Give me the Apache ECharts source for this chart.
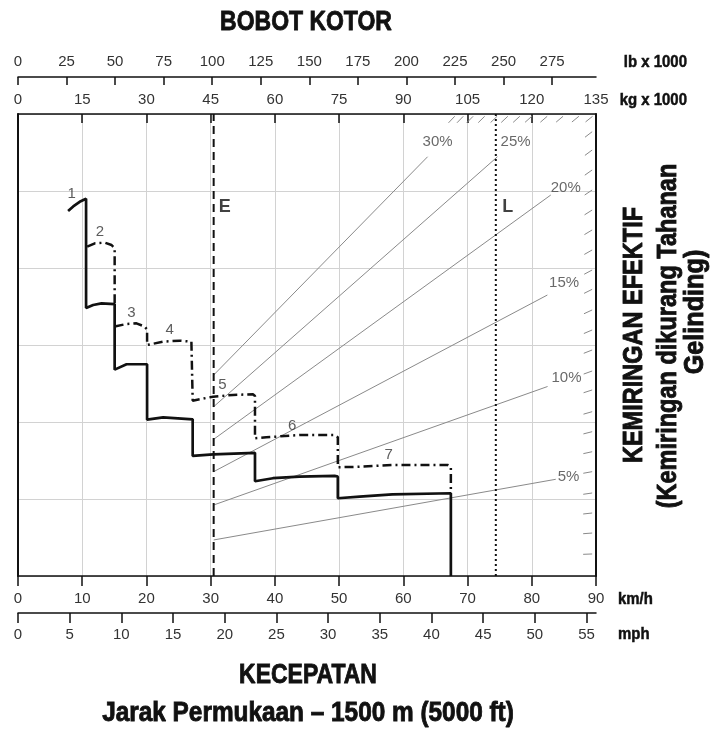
<!DOCTYPE html>
<html>
<head>
<meta charset="utf-8">
<script src="https://cdn.jsdelivr.net/npm/echarts@6/dist/echarts.min.js"></script>
<style>
  html, body { margin: 0; background: #fff; }
  #chart { width: 724px; height: 731px; }
</style>
</head>
<body>
<div id="chart"></div>
<script>
// axis tick labels
const lbTicks = [0, 25, 50, 75, 100, 125, 150, 175, 200, 225, 250, 275];
const kgTicks = [0, 15, 30, 45, 60, 75, 90, 105, 120, 135];
const kmhTicks = [0, 10, 20, 30, 40, 50, 60, 70, 80, 90];
const mphTicks = [0, 5, 10, 15, 20, 25, 30, 35, 40, 45, 50, 55];

// rimpull, full line (km/h, rimpull units)
const rimpullSolid = [
  [7.8, 47.4], [8.6, 48.0], [9.6, 48.6], [10.6, 49.0], [10.6, 34.8],
  [11.7, 35.2], [13.0, 35.4], [15.05, 35.3], [15.05, 26.8],
  [16.9, 27.5], [20.1, 27.5], [20.1, 20.3],
  [22.6, 20.6], [27.2, 20.35], [27.2, 15.6],
  [30.4, 15.8], [36.9, 16.0], [36.9, 12.3],
  [39.7, 12.7], [43.8, 12.9], [49.3, 13.0], [49.8, 12.9], [49.8, 10.1],
  [53.2, 10.3], [58.3, 10.6], [67.4, 10.75], [67.4, 0]
];

// rimpull, dash-dot line
const upperGear2 = [
  [10.77, 42.77], [11.97, 43.21], [13.52, 43.29], [14.57, 42.99], [15.05, 42.56], [15.05, 35.4]
];
const upperGear3to7 = [
  [15.05, 32.4], [16.9, 32.73], [18.45, 32.82], [19.74, 32.38], [20.1, 32.0], [20.1, 30.0],
  [22.59, 30.43], [25.18, 30.56], [27.0, 30.43], [27.2, 30.2], [27.2, 22.77],
  [30.36, 23.29], [33.47, 23.51], [36.58, 23.6], [36.9, 23.38], [36.9, 17.88],
  [38.66, 18.01], [43.83, 18.31], [49.27, 18.31], [49.8, 18.01], [49.8, 14.12],
  [53.16, 14.19], [58.34, 14.42], [66.89, 14.42], [67.4, 14.19], [67.4, 10.75]
];

// gear numbers (km/h, rimpull units, text)
const gearLabels = [
  [8.35, 49.6, '1'], [12.75, 44.64, '2'], [17.67, 34.12, '3'], [23.63, 31.95, '4'],
  [31.82, 24.81, '5'], [42.7, 19.52, '6'], [57.72, 15.71, '7']
];

// empty (E) and loaded (L) gross weight, kg x 1000
const emptyKg = 45.7;
const loadedKg = 111.6;

// effective grade lines on the weight axis (kg x 1000, rimpull units)
const gradeNames = ['5%', '10%', '15%', '20%', '25%', '30%'];
const gradeStart = [[45.7, 4.68], [45.7, 9.22], [45.7, 13.55], [45.7, 17.75], [45.7, 21.99], [45.7, 26.1]];
const gradeEnd = [[125.6, 12.56], [123.69, 24.61], [123.64, 36.49], [124.44, 49.48], [111.99, 54.45], [95.67, 54.45]];
const gradeLabelPos = [[128.59, 12.9], [128.12, 25.68], [127.54, 38.01], [127.94, 50.35], [116.21, 56.32], [98.0, 56.4]];

// small grade marks along right and top border
const rightTickV = [2.86, 5.58, 8.18, 10.78, 13.55, 16.14, 18.74, 21.34, 24.16, 26.62, 29.35,
  31.95, 34.55, 37.23, 39.74, 42.34, 44.94, 47.53, 50.13, 52.73, 55.32, 57.7];
const topTickKg = [102.0, 104.0, 106.3, 109.0, 111.9, 114.4, 117.2, 120.0, 123.6, 127.3, 131.0, 134.2];

const sans = "'Liberation Sans', Arial, sans-serif";

const chart = echarts.init(document.getElementById('chart'), null, { renderer: 'canvas' });

const axisBase = {
  type: 'value',
  gridIndex: 0,
  axisLine: { show: true, onZero: false, lineStyle: { color: '#111', width: 1.5 } },
  axisLabel: { color: '#333', fontSize: 15, fontFamily: sans },
  splitLine: { show: false }
};

const gradeSeries = gradeNames.map((name, i) => ({
  name: name,
  type: 'line',
  xAxisIndex: 2,
  yAxisIndex: 0,
  data: [gradeStart[i], gradeEnd[i]],
  showSymbol: false,
  silent: true,
  lineStyle: { color: '#8a8a8a', width: 1 },
  z: 2
}));

// short mark lying on the grade line through the origin
function tickItem(params, api) {
  const p = api.coord([api.value(0), api.value(1)]);
  const o = api.coord([0, 0]);
  const dx = p[0] - o[0], dy = p[1] - o[1];
  const len = Math.sqrt(dx * dx + dy * dy);
  return {
    type: 'line',
    shape: { x1: p[0] - dx / len * 9, y1: p[1] - dy / len * 9, x2: p[0], y2: p[1] },
    style: { stroke: '#8a8a8a', lineWidth: 1 }
  };
}

const textLabel = (size, bold, color) => ({
  show: true,
  position: 'inside',
  formatter: p => p.data[2],
  fontSize: size,
  fontWeight: bold ? 'bold' : 'normal',
  fontFamily: sans,
  color: color
});

// heavy condensed title text: bold face squeezed horizontally, with a thin outline for weight
function title(text, x, y, size, sx, align, extra) {
  return Object.assign({
    type: 'text', x: x, y: y, scaleX: sx,
    style: {
      text: text, font: 'bold ' + size + 'px ' + sans, fill: '#111',
      stroke: '#111', lineWidth: size > 20 ? 0.9 : 0.5,
      textAlign: align || 'center', textVerticalAlign: 'middle'
    }
  }, extra || {});
}

chart.setOption({
  animation: false,
  backgroundColor: '#fff',
  grid: { left: 18, top: 114, width: 578, height: 462, containLabel: false },
  xAxis: [
    Object.assign({}, axisBase, {
      position: 'bottom', min: 0, max: 90, interval: 10,
      axisTick: { show: true, inside: false, length: 10, lineStyle: { color: '#111', width: 1.5 } },
      axisLabel: Object.assign({}, axisBase.axisLabel, { margin: 15, customValues: kmhTicks }),
      splitLine: { show: true, lineStyle: { color: '#d2d2d2', width: 1 } }
    }),
    Object.assign({}, axisBase, {
      position: 'bottom', offset: 37, min: 0, max: 55.92,
      axisTick: { show: true, inside: false, length: 10, customValues: mphTicks, lineStyle: { color: '#111', width: 1.5 } },
      axisLabel: Object.assign({}, axisBase.axisLabel, { margin: 14, customValues: mphTicks })
    }),
    Object.assign({}, axisBase, {
      position: 'top', min: 0, max: 135, interval: 15,
      axisTick: { show: true, inside: true, length: 9, lineStyle: { color: '#111', width: 1.5 } },
      axisLabel: Object.assign({}, axisBase.axisLabel, { margin: 7, customValues: kgTicks })
    }),
    Object.assign({}, axisBase, {
      position: 'top', offset: 37, min: 0, max: 297.6,
      axisTick: { show: true, inside: true, length: 8, customValues: lbTicks, lineStyle: { color: '#111', width: 1.5 } },
      axisLabel: Object.assign({}, axisBase.axisLabel, { margin: 8, customValues: lbTicks })
    })
  ],
  yAxis: [
    {
      type: 'value', position: 'left', min: 0, max: 60, interval: 10,
      axisLine: { show: true, onZero: false, lineStyle: { color: '#111', width: 2 } },
      axisTick: { show: false }, axisLabel: { show: false },
      splitLine: { show: true, lineStyle: { color: '#d2d2d2', width: 1 } }
    },
    {
      type: 'value', position: 'right', min: 0, max: 60, interval: 10,
      axisLine: { show: true, onZero: false, lineStyle: { color: '#111', width: 2 } },
      axisTick: { show: false }, axisLabel: { show: false }, splitLine: { show: false }
    }
  ],
  series: [
    ...gradeSeries,
    {
      type: 'scatter', xAxisIndex: 2, yAxisIndex: 0, symbolSize: 0, silent: true,
      data: gradeLabelPos.map((p, i) => [p[0], p[1], gradeNames[i]]),
      label: textLabel(15, false, '#444'), z: 3
    },
    {
      type: 'custom', xAxisIndex: 2, yAxisIndex: 0, silent: true, clip: false,
      data: rightTickV.map(v => [134.1, v]).concat(topTickKg.map(k => [k, 59.7])),
      renderItem: tickItem, z: 2
    },
    {
      type: 'line', xAxisIndex: 2, yAxisIndex: 0, showSymbol: false, silent: true,
      data: [[emptyKg, 0], [emptyKg, 60]],
      lineStyle: { color: '#111', width: 2, type: [8, 5] }, z: 4
    },
    {
      type: 'line', xAxisIndex: 2, yAxisIndex: 0, showSymbol: false, silent: true,
      data: [[loadedKg, 0], [loadedKg, 60]],
      lineStyle: { color: '#111', width: 2, type: [2, 3] }, z: 4
    },
    {
      type: 'scatter', xAxisIndex: 2, yAxisIndex: 0, symbolSize: 0, silent: true,
      data: [[emptyKg + 2.6, 47.9, 'E'], [loadedKg + 2.8, 47.96, 'L']],
      label: textLabel(18, true, '#111'), z: 5
    },
    {
      type: 'line', xAxisIndex: 0, yAxisIndex: 0, data: rimpullSolid, showSymbol: false, silent: true,
      lineStyle: { color: '#111', width: 2.7 }, z: 6
    },
    {
      type: 'line', xAxisIndex: 0, yAxisIndex: 0, data: upperGear2, showSymbol: false, silent: true,
      lineStyle: { color: '#111', width: 2.5, type: [9, 4, 2, 4] }, z: 6
    },
    {
      type: 'line', xAxisIndex: 0, yAxisIndex: 0, data: upperGear3to7, showSymbol: false, silent: true,
      lineStyle: { color: '#111', width: 2.5, type: [9, 4, 2, 4] }, z: 6
    },
    {
      type: 'scatter', xAxisIndex: 0, yAxisIndex: 0, symbolSize: 0, silent: true,
      data: gearLabels, label: textLabel(15, false, '#333'), z: 7
    }
  ],
  graphic: [
    title('BOBOT KOTOR', 306, 22, 28, 0.82),
    title('lb x 1000', 687, 62, 17, 0.88, 'right'),
    title('kg x 1000', 687, 100, 17, 0.88, 'right'),
    title('km/h', 618, 599, 17, 0.88, 'left'),
    title('mph', 618, 634, 17, 0.88, 'left'),
    title('KECEPATAN', 308, 675, 28, 0.82),
    title('Jarak Permukaan \u2013 1500 m (5000 ft)', 308, 713, 28, 0.87),
    title('KEMIRINGAN EFEKTIF', 634, 335, 28, 0.84, 'center', { rotation: Math.PI / 2 }),
    title('(Kemiringan dikurang Tahanan', 668, 336, 28, 0.84, 'center', { rotation: Math.PI / 2 }),
    title('Gelinding)', 695, 312, 28, 0.9, 'center', { rotation: Math.PI / 2 })
  ]
});
</script>
</body>
</html>
